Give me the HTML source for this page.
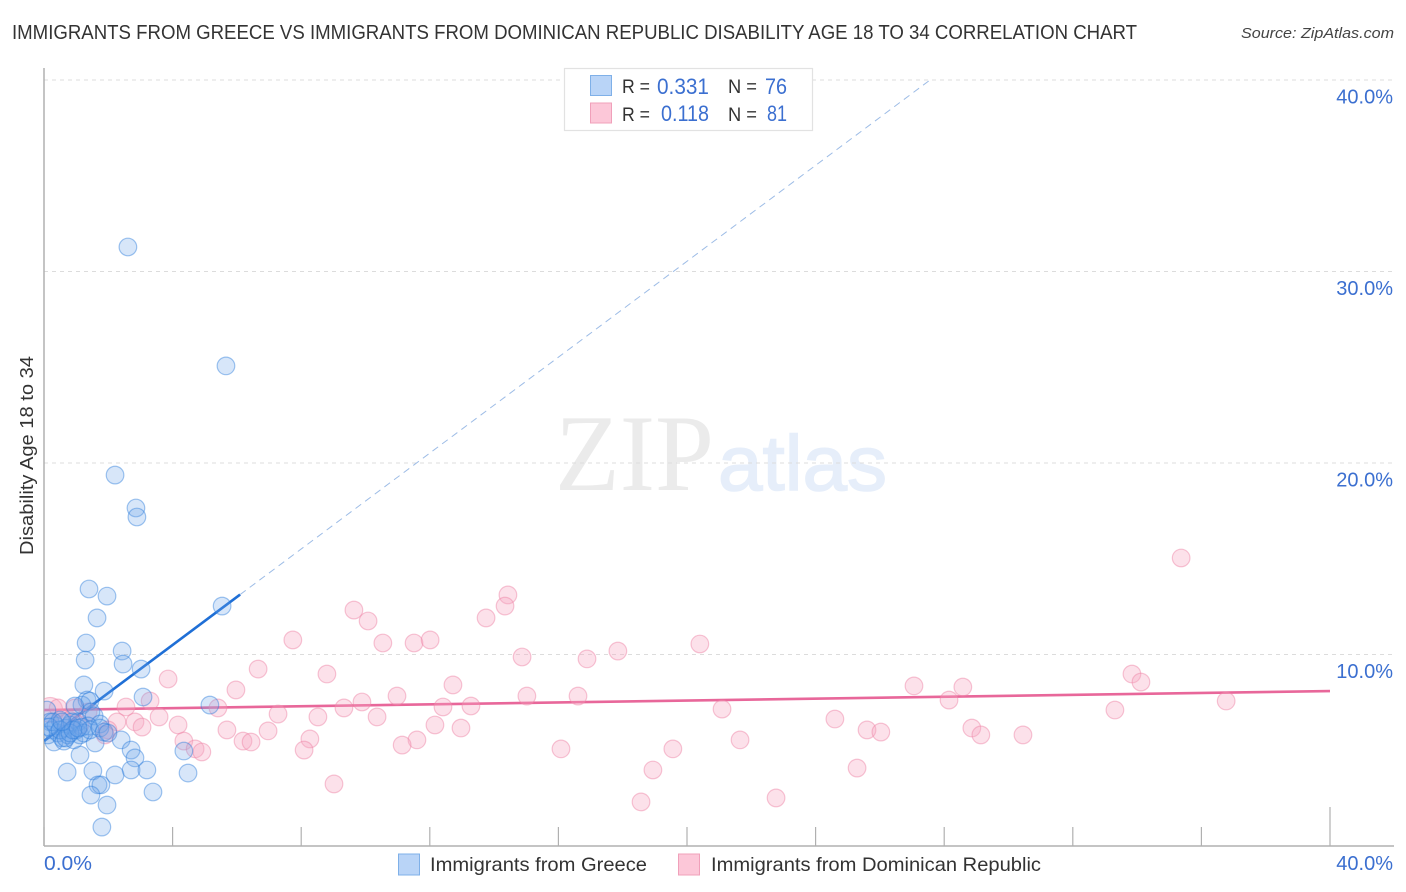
<!DOCTYPE html>
<html lang="en">
<head>
<meta charset="utf-8">
<title>Immigrants from Greece vs Immigrants from Dominican Republic Correlation Chart</title>
<style>
html,body{margin:0;padding:0;background:#fff;width:1406px;height:892px;overflow:hidden}
svg{display:block;font-family:"Liberation Sans",sans-serif}
</style>
</head>
<body>
<svg id="chart" xmlns="http://www.w3.org/2000/svg" width="1406" height="892" viewBox="0 0 1406 892">
<defs><clipPath id="plot-clip"><rect x="44" y="60" width="1350" height="786"/></clipPath></defs>
<text x="12" y="39" font-size="20" fill="#333" textLength="1125" lengthAdjust="spacingAndGlyphs">IMMIGRANTS FROM GREECE VS IMMIGRANTS FROM DOMINICAN REPUBLIC DISABILITY AGE 18 TO 34 CORRELATION CHART</text>
<text x="1241" y="38" font-size="15" font-style="italic" fill="#444" textLength="153" lengthAdjust="spacingAndGlyphs">Source: ZipAtlas.com</text>

<g>
<text x="555" y="490" font-family="'Liberation Serif',serif" font-size="109" fill="#ebebeb" textLength="159" lengthAdjust="spacingAndGlyphs">ZIP</text>
<text x="718" y="490" font-size="78" fill="#e6eefa" stroke="#e6eefa" stroke-width="1.5" textLength="169" lengthAdjust="spacingAndGlyphs">atlas</text>
</g>

<g id="grid"></g>
<g id="axes"></g>
<g id="trends" clip-path="url(#plot-clip)"></g>
<g id="points" clip-path="url(#plot-clip)"></g>
<g id="labels"></g>

<text transform="translate(33,555) rotate(-90)" font-size="18.5" fill="#333" textLength="199" lengthAdjust="spacingAndGlyphs">Disability Age 18 to 34</text>

<g>
<rect x="564.5" y="68.5" width="248" height="62" fill="#fff" stroke="#e2e2e2" stroke-width="1.2"/>
<rect x="590.5" y="75.5" width="21" height="20" fill="#b9d4f7" stroke="#7fb0e8" stroke-width="1"/>
<rect x="590.5" y="103" width="21" height="20" fill="#fcc7d8" stroke="#f0a0ba" stroke-width="1"/>
<text x="622" y="93" font-size="19.5" fill="#333" textLength="28" lengthAdjust="spacingAndGlyphs">R =</text>
<text x="657" y="94" font-size="22" fill="#3b6fd0" textLength="52" lengthAdjust="spacingAndGlyphs">0.331</text>
<text x="728" y="93" font-size="19.5" fill="#333" textLength="29" lengthAdjust="spacingAndGlyphs">N =</text>
<text x="765" y="94" font-size="22" fill="#3b6fd0" textLength="22" lengthAdjust="spacingAndGlyphs">76</text>
<text x="622" y="121" font-size="19.5" fill="#333" textLength="28" lengthAdjust="spacingAndGlyphs">R =</text>
<text x="661" y="121" font-size="22" fill="#3b6fd0" textLength="48" lengthAdjust="spacingAndGlyphs">0.118</text>
<text x="728" y="121" font-size="19.5" fill="#333" textLength="29" lengthAdjust="spacingAndGlyphs">N =</text>
<text x="767" y="121" font-size="22" fill="#3b6fd0" textLength="20" lengthAdjust="spacingAndGlyphs">81</text>
</g>

<g>
<g>
<rect x="398.5" y="854" width="21" height="21" fill="#b9d4f7" stroke="#7fb0e8" stroke-width="1"/>
<text x="430" y="871" font-size="19.5" fill="#333" textLength="217" lengthAdjust="spacingAndGlyphs">Immigrants from Greece</text>
</g>
<g>
<rect x="678.5" y="854" width="21" height="21" fill="#fcc7d8" stroke="#f0a0ba" stroke-width="1"/>
<text x="711" y="871" font-size="19.5" fill="#333" textLength="330" lengthAdjust="spacingAndGlyphs">Immigrants from Dominican Republic</text>
</g>
</g>
</svg>
<script>
const yTickValues = [10, 20, 30, 40];
const yTickLabels = ["10.0%", "20.0%", "30.0%", "40.0%"];
const xTickValues = [0, 4, 8, 12, 16, 20, 24, 28, 32, 36, 40];
const xEndLabels = ["0.0%", "40.0%"];

const greeceX = [2.61,5.66,2.21,2.86,2.89,1.40,1.96,1.65,5.54,1.31,2.43,1.28,2.46,3.02,1.24,1.87,1.34,3.08,5.16,1.18,1.43,1.46,0.96,1.56,1.74,2.40,2.71,2.83,4.35,1.12,1.59,0.72,1.52,2.21,2.71,3.20,4.48,1.68,1.77,1.46,3.39,1.96,1.80,0.09,0.19,0.25,0.31,0.12,0.37,0.44,0.50,0.56,0.62,0.68,0.75,0.81,0.87,0.93,1.00,1.06,1.12,1.18,1.24,1.37,1.43,1.74,1.87,1.99,0.28,0.16,0.50,0.68,0.81,0.90,1.06,0.56];
const greeceY = [31.28,25.07,19.37,17.65,17.18,13.42,13.05,11.91,12.53,10.60,10.18,9.71,9.50,9.24,8.41,8.09,7.62,7.78,7.36,7.36,7.57,7.00,7.31,6.79,6.37,5.54,5.01,4.60,4.96,4.75,5.38,3.86,3.92,3.71,3.97,3.97,3.81,3.19,3.19,2.66,2.82,2.14,0.99,7.10,6.48,6.06,5.43,5.80,6.27,5.90,6.58,5.64,5.48,6.16,5.80,6.32,6.48,5.54,6.06,6.48,5.80,6.21,5.90,6.27,6.06,6.16,5.95,5.90,6.48,6.21,6.06,5.64,5.90,6.06,6.16,6.48];

const dominicanX = [35.37,14.43,14.34,13.75,9.64,10.08,7.74,10.54,11.51,12.01,20.40,14.87,16.89,17.85,6.66,8.80,3.86,5.97,12.72,10.98,15.02,16.61,27.06,28.58,33.84,34.12,28.15,36.77,33.31,21.09,9.89,9.33,13.28,12.41,5.41,3.30,2.55,7.28,8.52,10.36,24.60,3.58,2.83,2.27,4.17,3.05,5.69,6.97,12.16,12.97,25.60,26.03,28.86,29.14,30.45,8.27,6.19,6.44,11.60,11.14,21.65,8.09,4.35,4.70,4.91,16.08,19.56,25.29,18.94,9.02,18.57,22.77,0.19,0.44,0.56,0.81,0.96,1.12,1.37,1.99,1.90];
const dominicanY = [15.04,13.11,12.53,11.91,12.32,11.75,10.76,10.60,10.60,10.76,10.55,9.87,9.77,10.18,9.24,8.98,8.72,8.15,8.41,7.83,7.83,7.83,8.36,8.30,8.98,8.56,7.62,7.57,7.10,7.15,7.52,7.21,7.31,7.26,7.21,7.57,7.26,6.89,6.74,6.74,6.63,6.74,6.48,6.48,6.32,6.21,6.06,6.01,6.32,6.16,6.06,5.95,6.16,5.80,5.80,5.59,5.48,5.43,5.54,5.27,5.54,5.01,5.48,5.07,4.91,5.07,5.07,4.07,3.97,3.24,2.30,2.51,7.10,7.21,6.68,6.58,7.21,6.32,7.00,6.06,5.80];

const greeceTrendX = [0, 6.1, 27.56];
const greeceTrendY = [5.48, 13.13, 40];
const dominicanTrendX = [0, 40];
const dominicanTrendY = [7.1, 8.09];

const SVG_NS = "http://www.w3.org/2000/svg";
function xScale(v) { return 44 + v * 32.15; }
function yScale(v) { return 846 - v * 19.15; }
function make(tag, attrs, parent, text) {
  const el = document.createElementNS(SVG_NS, tag);
  for (const k in attrs) el.setAttribute(k, attrs[k]);
  if (text !== undefined) el.textContent = text;
  parent.appendChild(el);
  return el;
}

const grid = document.getElementById("grid");
const axes = document.getElementById("axes");
const trends = document.getElementById("trends");
const points = document.getElementById("points");
const labels = document.getElementById("labels");

yTickValues.forEach(function (v, i) {
  const line = make("line", {x1: 44, x2: 1394, y1: yScale(v), y2: yScale(v), stroke: "#dcdcdc", "stroke-width": 1, "stroke-dasharray": "4 4"}, grid);
  
  
  const lab = make("text", {x: 1393, y: yScale(v) + 23.5, "text-anchor": "end", "font-size": 20, fill: "#3b6fd0"}, labels, yTickLabels[i]);
  
  
});

const yAxisLine = make("line", {x1: 44, x2: 44, y1: 68, y2: 846, stroke: "#b0b0b0", "stroke-width": 1.5}, axes);


const xAxisLine = make("line", {x1: 44, x2: 1394, y1: 846, y2: 846, stroke: "#b0b0b0", "stroke-width": 1.5}, axes);


xTickValues.forEach(function (v, i) {
  const major = i === xTickValues.length - 1;
  const tick = make("line", {x1: xScale(v), x2: xScale(v), y1: major ? 807 : 827, y2: 846, stroke: "#b0b0b0", "stroke-width": 1.2}, axes);
  
  
});

const xLabelLeft = make("text", {x: xScale(xTickValues[0]), y: 870, "font-size": 20, fill: "#3b6fd0", textLength: 48, lengthAdjust: "spacingAndGlyphs"}, labels, xEndLabels[0]);


const xLabelRight = make("text", {x: 1393, y: 870, "text-anchor": "end", "font-size": 20, fill: "#3b6fd0"}, labels, xEndLabels[1]);



const largeDominicanIndex = 72;
dominicanX.forEach(function (v, i) {
  const c = make("circle", {cx: xScale(v), cy: yScale(dominicanY[i]), r: i === largeDominicanIndex ? 12.5 : 8.8, fill: "#f7a6c0", "fill-opacity": 0.34, stroke: "#ee86a8", "stroke-opacity": 0.48, "stroke-width": 1.2}, points);
  
  
});
greeceX.forEach(function (v, i) {
  const c = make("circle", {cx: xScale(v), cy: yScale(greeceY[i]), r: 8.8, fill: "#6ea6ea", "fill-opacity": 0.28, stroke: "#2f7fdc", "stroke-opacity": 0.45, "stroke-width": 1.2}, points);
  
  
});

const greeceSolid = make("line", {x1: xScale(greeceTrendX[0]), y1: yScale(greeceTrendY[0]), x2: xScale(greeceTrendX[1]), y2: yScale(greeceTrendY[1]), stroke: "#1f6fd6", "stroke-width": 2.6}, trends);


const greeceDashed = make("line", {x1: xScale(greeceTrendX[1]), y1: yScale(greeceTrendY[1]), x2: xScale(greeceTrendX[2]), y2: yScale(greeceTrendY[2]), stroke: "#9dbce6", "stroke-width": 1, "stroke-dasharray": "7 5"}, trends);


const dominicanLine = make("line", {x1: xScale(dominicanTrendX[0]), y1: yScale(dominicanTrendY[0]), x2: xScale(dominicanTrendX[1]), y2: yScale(dominicanTrendY[1]), stroke: "#e8679a", "stroke-width": 2.6}, trends);


</script>
</body>
</html>
